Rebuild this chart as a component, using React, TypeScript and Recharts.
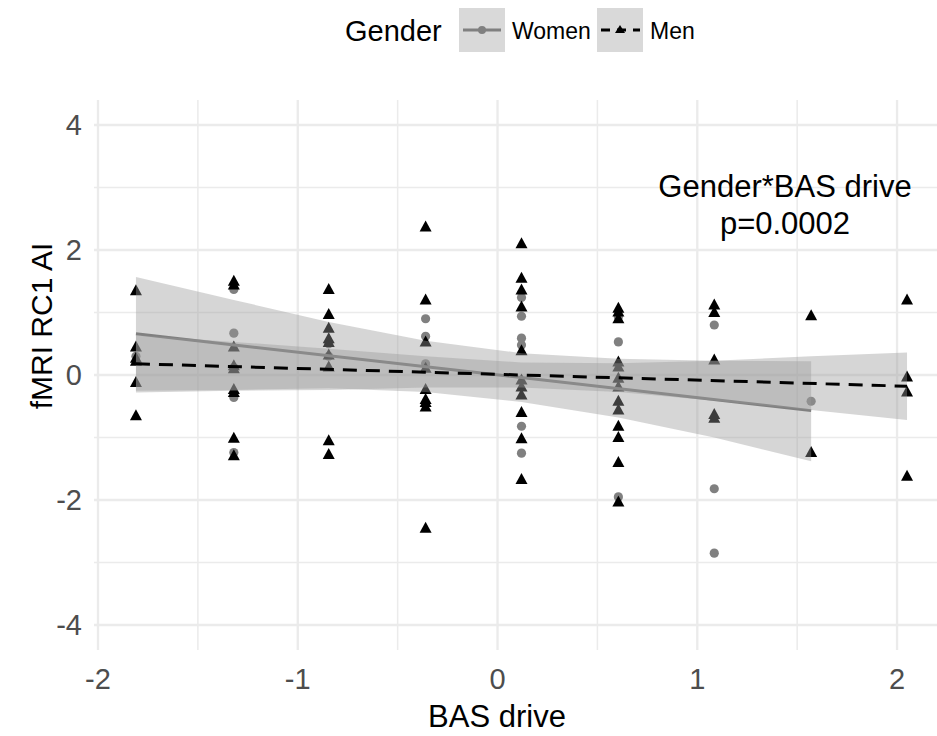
import React from 'react';
import { ComposedChart, Scatter, Area, Line, XAxis, YAxis, CartesianGrid } from 'recharts';

// BAS drive levels (x positions of the point columns)
const columns = [-1.81, -1.32, -0.845, -0.36, 0.12, 0.605, 1.085, 1.57, 2.05];

// fMRI RC1 AI values per column
const menValues = [
  [1.35, 0.45, 0.27, 0.22, -0.12, -0.65],
  [1.5, 1.44, 0.45, 0.15, 0.1, -0.23, -0.28, -1.01, -1.29],
  [1.37, 0.97, 0.75, 0.58, 0.52, 0.32, 0.13, -1.05, -1.27],
  [2.37, 1.2, 0.53, 0.11, -0.23, -0.39, -0.44, -0.51, -2.45],
  [2.1, 1.55, 1.36, 1.09, 0.39, -0.08, -0.19, -0.32, -0.6, -1.02, -1.67],
  [1.07, 1.01, 0.9, 0.21, 0.13, -0.05, -0.19, -0.42, -0.56, -0.82, -1.0, -1.4, -2.03],
  [1.12, 1.0, 0.24, -0.63, -0.69],
  [0.95, -1.24],
  [1.2, -0.03, -0.27, -1.62],
];
const womenValues = [
  [0.3],
  [1.37, 0.67, 0.12, -0.36, -1.24],
  [0.5, 0.3],
  [0.9, 0.62, 0.18],
  [1.24, 0.94, 0.59, 0.48, -0.82, -1.25],
  [0.93, 0.53, -1.95],
  [0.8, -1.82, -2.85],
  [-0.42],
];

// confidence bands read at each column
const menLow = [-0.28, -0.25, -0.24, -0.2, -0.2, -0.27, -0.41, -0.56, -0.72];
const menHigh = [0.64, 0.53, 0.42, 0.3, 0.2, 0.19, 0.23, 0.3, 0.36];
const womenLow = [-0.25, -0.24, -0.21, -0.27, -0.43, -0.68, -1.0, -1.38];
const womenHigh = [1.57, 1.2, 0.85, 0.55, 0.35, 0.26, 0.23, 0.22];

// fitted lines (end points)
const menFitX = [-1.81, 2.05];
const menFitY = [0.18, -0.18];
const womenFitX = [-1.81, 1.57];
const womenFitY = [0.66, -0.57];

const xTicks = [-2, -1, 0, 1, 2];
const xMinor = [-1.5, -0.5, 0.5, 1.5];
const yTicks = [-4, -2, 0, 2, 4];
const yMinor = [-3, -1, 1, 3];

const FONT = '"Liberation Sans", Arial, sans-serif';

const toPoints = (vals: number[][]) =>
  vals.flatMap((col, i) => col.map(y => ({ x: columns[i], y })));

const menPoints = toPoints(menValues);
const womenPoints = toPoints(womenValues);

const menBand = menLow.map((lo, i) => ({ x: columns[i], band: [lo, menHigh[i]] }));
const womenBand = womenLow.map((lo, i) => ({ x: columns[i], band: [lo, womenHigh[i]] }));
const menFit = menFitX.map((x, i) => ({ x, fit: menFitY[i] }));
const womenFit = womenFitX.map((x, i) => ({ x, fit: womenFitY[i] }));

const TriangleShape = (props: any) => {
  const { cx, cy } = props;
  if (cx == null || cy == null) return null;
  return <path d={`M${cx},${cy - 6.5} L${cx + 6},${cy + 4.5} L${cx - 6},${cy + 4.5} Z`} fill="#000" />;
};

const CircleShape = (props: any) => {
  const { cx, cy } = props;
  if (cx == null || cy == null) return null;
  return <circle cx={cx} cy={cy} r={4.6} fill="#808080" />;
};

export default function App() {
  const tick = { fontSize: 29, fill: '#4D4D4D', fontFamily: FONT };
  return (
    <div style={{ position: 'absolute', left: 0, top: 0, width: 937, height: 736, background: '#fff' }}>
      <ComposedChart width={937} height={736} margin={{ top: 100, right: 0, bottom: 0, left: 0 }}>
        <CartesianGrid stroke="#EBEBEB" strokeWidth={1.5} horizontalValues={yMinor} verticalValues={xMinor} />
        <CartesianGrid stroke="#EBEBEB" strokeWidth={2.3} horizontalValues={yTicks} verticalValues={xTicks} />
        <XAxis
          type="number"
          dataKey="x"
          domain={[-2.02, 2.2]}
          ticks={xTicks}
          interval={0}
          allowDataOverflow
          height={86}
          axisLine={false}
          tickLine={false}
          tickSize={0}
          tickMargin={18}
          tick={tick}
        />
        <YAxis
          type="number"
          domain={[-4.4, 4.4]}
          ticks={yTicks}
          interval={0}
          allowDataOverflow
          width={94}
          axisLine={false}
          tickLine={false}
          tickSize={0}
          tickMargin={12}
          tick={tick}
        />
        <Scatter data={womenPoints} dataKey="y" shape={CircleShape} isAnimationActive={false} />
        <Scatter data={menPoints} dataKey="y" shape={TriangleShape} isAnimationActive={false} />
        <Area
          data={womenBand}
          dataKey="band"
          type="linear"
          stroke="none"
          fill="#999999"
          fillOpacity={0.4}
          isAnimationActive={false}
          zIndex={601}
        />
        <Line
          data={womenFit}
          dataKey="fit"
          type="linear"
          stroke="#808080"
          strokeWidth={3}
          dot={false}
          isAnimationActive={false}
          zIndex={602}
        />
        <Area
          data={menBand}
          dataKey="band"
          type="linear"
          stroke="none"
          fill="#999999"
          fillOpacity={0.4}
          isAnimationActive={false}
          zIndex={603}
        />
        <Line
          data={menFit}
          dataKey="fit"
          type="linear"
          stroke="#000"
          strokeWidth={3}
          strokeDasharray="14 9"
          dot={false}
          isAnimationActive={false}
          zIndex={604}
        />
      </ComposedChart>
      <svg
        width={937}
        height={736}
        style={{ position: 'absolute', left: 0, top: 0, pointerEvents: 'none', fontFamily: FONT }}
      >
        {/* legend */}
        <text x={345} y={41} fontSize={29} fill="#000">Gender</text>
        <rect x={459} y={8} width={46} height={44} fill="#D9D9D9" />
        <line x1={463} y1={30} x2={501} y2={30} stroke="#808080" strokeWidth={3} />
        <circle cx={482} cy={30} r={4} fill="#808080" />
        <text x={512} y={39} fontSize={23} fill="#000">Women</text>
        <rect x={597} y={8} width={46} height={44} fill="#D9D9D9" />
        <line x1={601} y1={30} x2={640} y2={30} stroke="#000" strokeWidth={3} strokeDasharray="9 7" />
        <path d="M620,25 L625,33 L615,33 Z" fill="#000" />
        <text x={650} y={39} fontSize={23} fill="#000">Men</text>
        {/* annotation */}
        <text x={785} y={197} fontSize={31} textAnchor="middle" fill="#000">Gender*BAS drive</text>
        <text x={785} y={234} fontSize={31} textAnchor="middle" fill="#000">p=0.0002</text>
        {/* axis titles */}
        <text x={497} y={727} fontSize={31} textAnchor="middle" fill="#000">BAS drive</text>
        <text x={52} y={326} fontSize={30} textAnchor="middle" fill="#000" transform="rotate(-90 52 326)">
          fMRI RC1 AI
        </text>
      </svg>
    </div>
  );
}
